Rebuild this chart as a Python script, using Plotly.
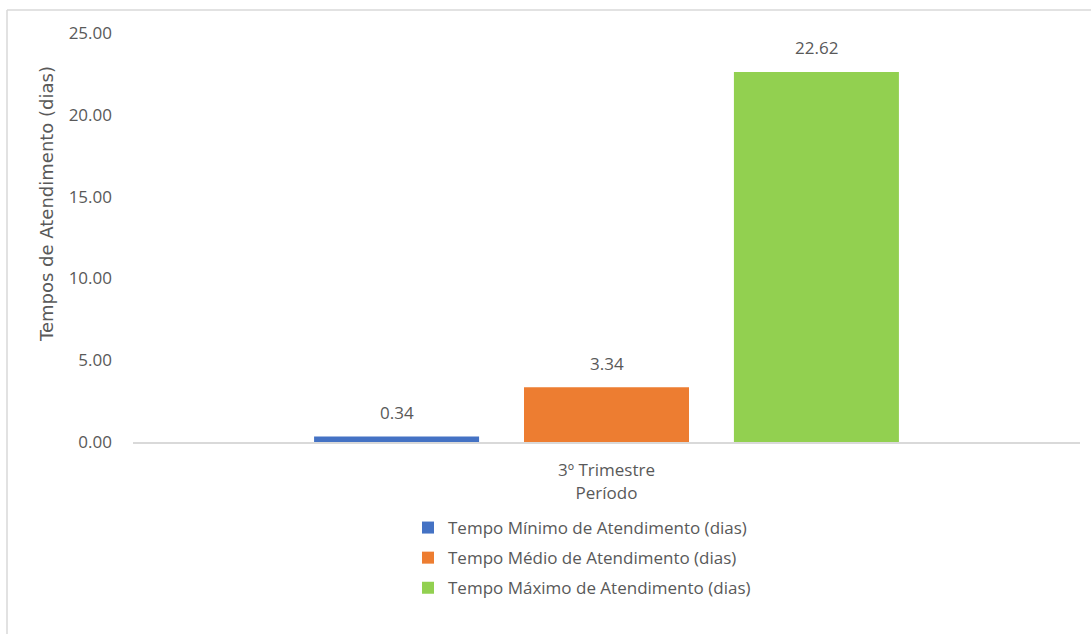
import plotly.graph_objects as go

# Service-time figures for the quarter
periods = ["3º Trimestre"]
series_names = [
    "Tempo Mínimo de Atendimento (dias)",
    "Tempo Médio de Atendimento (dias)",
    "Tempo Máximo de Atendimento (dias)",
]
series_values = [[0.34], [3.34], [22.62]]
series_colors = ["#4472C4", "#ED7D31", "#92D050"]

y_ticks = [0, 5, 10, 15, 20, 25]
y_title = "Tempos de Atendimento (dias)"
x_title = "Período"

W, H = 1091, 634
ML, MR, MT, MB = 133, 11, 33, 192
BARGAP = 0.335
plot_w = W - ML - MR
plot_h = H - MT - MB
slot_px = plot_w * (1 - BARGAP) / len(series_names)

FONT = "Open Sans"
GREY = "#595959"
FS = 17

# pixel -> paper coordinate helpers
px_x = lambda px: (px - ML) / plot_w
px_y = lambda py: (H - MB - py) / plot_h

fig = go.Figure()
for i, (name, vals, color) in enumerate(zip(series_names, series_values, series_colors)):
    fig.add_trace(go.Bar(
        x=periods, y=vals, name=name,
        marker=dict(color=color, line=dict(width=0)),
        legendgroup=f"g{i}",
    ))
    # value label above each bar
    for p, v in zip(periods, vals):
        fig.add_annotation(
            x=p, y=v, text=f"{v:.2f}", showarrow=False,
            xshift=(i - (len(series_names) - 1) / 2) * slot_px,
            yshift=24, yanchor="middle",
            font=dict(family=FONT, size=FS, color=GREY),
        )

# vertical axis title
fig.add_annotation(
    xref="paper", yref="paper", x=px_x(46), y=px_y(204),
    xanchor="center", yanchor="middle", textangle=-90,
    text=y_title, showarrow=False,
    font=dict(family="DejaVu Sans", size=18, color=GREY),
)

# chart frame
fig.add_shape(type="line", xref="paper", yref="paper",
              x0=px_x(7), x1=px_x(1095), y0=px_y(10), y1=px_y(10),
              line=dict(color="#D9D9D9", width=1.5))
fig.add_shape(type="line", xref="paper", yref="paper",
              x0=px_x(7), x1=px_x(7), y0=px_y(10), y1=px_y(640),
              line=dict(color="#D9D9D9", width=1.5))

fig.update_layout(
    width=W, height=H,
    margin=dict(l=ML, r=MR, t=MT, b=MB),
    paper_bgcolor="white", plot_bgcolor="white",
    barmode="group", bargap=BARGAP, bargroupgap=0.214,
    font=dict(family=FONT, size=FS, color=GREY),
    showlegend=True,
    legend=dict(
        orientation="v", x=px_x(408), xanchor="left",
        y=px_y(510), yanchor="top",
        tracegroupgap=5, font=dict(size=FS, color=GREY),
        bgcolor="rgba(0,0,0,0)",
    ),
    xaxis=dict(
        showline=True, linecolor="#D9D9D9", linewidth=1.5,
        showgrid=False, ticks="", ticklabelstandoff=12,
        tickfont=dict(size=FS, color=GREY),
        title=dict(text=x_title, font=dict(size=FS, color=GREY), standoff=2),
        automargin=False,
    ),
    yaxis=dict(
        range=[0, 25], tickvals=y_ticks, tickformat=".2f",
        showgrid=False, zeroline=False, showline=False,
        ticks="", ticklabelstandoff=20,
        tickfont=dict(size=FS, color=GREY),
        automargin=False,
    ),
)

fig.write_html("out.html")
